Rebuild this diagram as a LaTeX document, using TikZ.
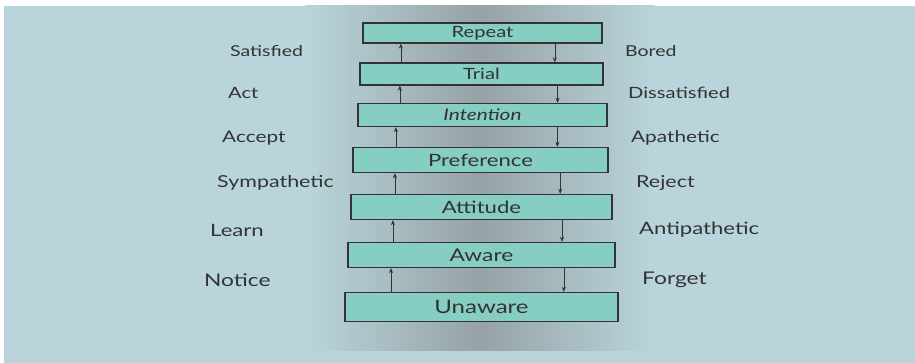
\documentclass[tikz,border=0pt]{standalone}
\usepackage{fontspec}
\setmainfont{Lato}[FakeStretch=1.3]
\usetikzlibrary{arrows.meta,calc}
\definecolor{pagebg}{HTML}{B9D5DB}
\definecolor{shadowgray}{HTML}{96A2A6}
\definecolor{boxteal}{HTML}{86CDC4}
\definecolor{inkgray}{HTML}{333333}
\tikzset{
  stagebox/.style={
    rectangle, draw=inkgray, fill=boxteal, line width=1.3pt,
    inner sep=0pt, text=inkgray
  },
  flowarrow/.style={
    -{Stealth[length=5pt,width=4pt]}, line width=0.5pt, color=inkgray
  },
  sidelabel/.style={
    anchor=west, inner sep=0pt, text=inkgray
  },
}

\begin{document}
\begin{tikzpicture}[x=1pt,y=-1pt]
  % page and shadow of the fold
  \fill[white] (0,0) rectangle (915,363);
  \fill[pagebg] (4,6) rectangle (915,363);
  \shade[left color=pagebg, right color=pagebg, middle color=shadowgray]
    (305,6) rectangle (655,350);
  \useasboundingbox (0,0) rectangle (915,363);

  % Stages, bottom to top
  \foreach \i/\txt/\xl/\xr/\y/\h/\fs in {
      0/Unaware/345/618/307/29/18.5,
      1/Aware/348/615/255/25/17.5,
      2/Attitude/351/612/207/25/17,
      3/Preference/353/608/160/25/17,
      4/{\itshape Intention}/358/607/115/23/16,
      5/Trial/360/603/74/22/15.5,
      6/Repeat/363/602/33/20/15.5} {
    \node[stagebox, minimum width=\xr pt-\xl pt, minimum height=\h pt,
          font=\fontsize{\fs}{\fs}\selectfont] (stage\i) at ({(\xl+\xr)/2},\y) {\txt};
  }

  % Arrows between stages
  \foreach \i/\j in {0/1,1/2,2/3,3/4,4/5,5/6} {
    \coordinate (up\i) at ($(stage\i.north west)!0.17!(stage\i.north east)$);
    \coordinate (dn\i) at ($(stage\i.north west)!0.80!(stage\i.north east)$);
    \draw[flowarrow] (up\i) -- (up\i |- stage\j.south);
    \draw[flowarrow] (dn\i |- stage\j.south) -- (dn\i);
  }

  % Labels on both sides
  \foreach \lt/\rt/\xl/\xr/\y/\fs in {
      Satisfied/Bored/230/625/51/15,
      Act/Dissatisfied/228/628/93/15.5,
      Accept/Apathetic/222/631/138/16,
      Sympathetic/Reject/217/636/183/16.5,
      Learn/Antipathetic/210/639/230/17,
      Notice/Forget/204/642/280/17.5} {
    \node[sidelabel, font=\fontsize{\fs}{\fs}\selectfont] (l\lt) at (\xl,\y) {\lt};
    \node[sidelabel, font=\fontsize{\fs}{\fs}\selectfont] (r\rt) at (\xr,\y) {\rt};
  }
\end{tikzpicture}
\end{document}
